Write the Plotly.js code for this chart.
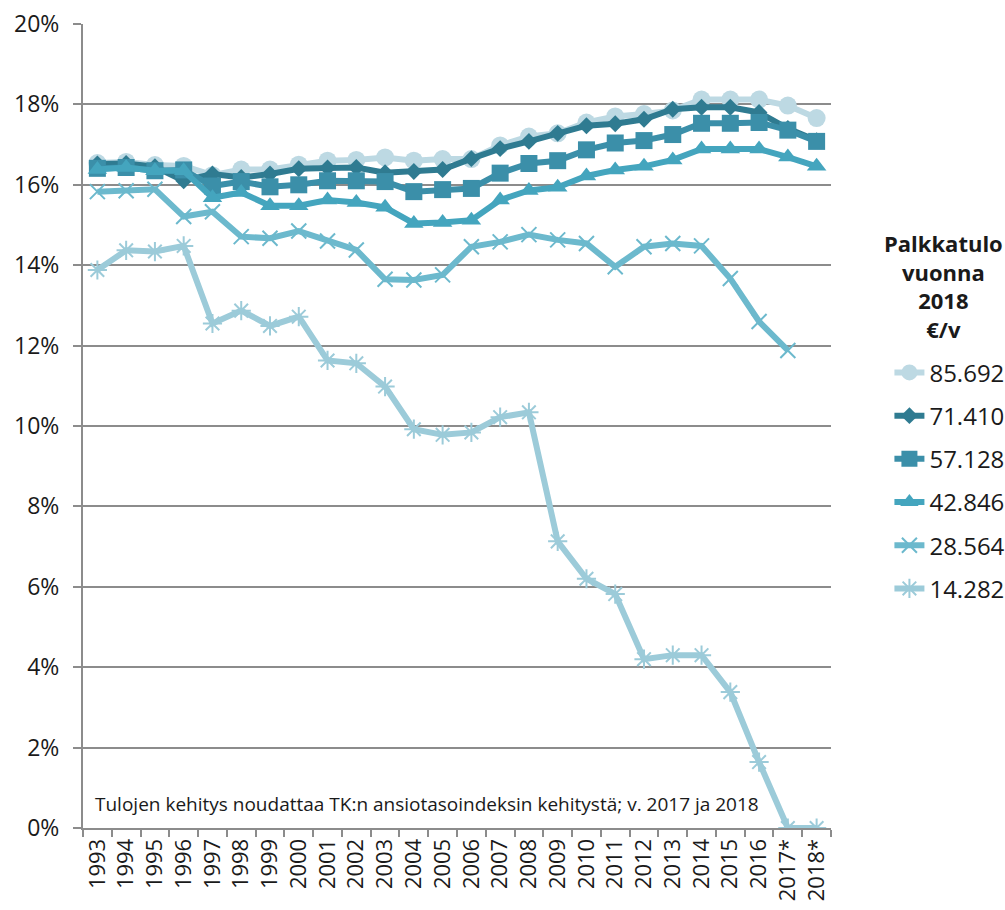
<!DOCTYPE html>
<html>
<head>
<meta charset="utf-8">
<script src="https://cdn.plot.ly/plotly-3.0.1.min.js"></script>
<style>html,body{margin:0;padding:0;background:#fff;}#chart{width:1005px;height:910px;}</style>
</head>
<body>
<div id="chart"></div>
<script>
var years = ["1993","1994","1995","1996","1997","1998","1999","2000","2001","2002","2003","2004","2005","2006","2007","2008","2009","2010","2011","2012","2013","2014","2015","2016","2017*","2018*"];
var seriesNames = ["85.692","71.410","57.128","42.846","28.564","14.282"];
var s85692 = [16.54,16.57,16.49,16.47,16.24,16.38,16.38,16.50,16.60,16.62,16.68,16.60,16.64,16.64,16.98,17.20,17.28,17.55,17.70,17.76,17.85,18.12,18.12,18.12,17.97,17.66];
var s71410 = [16.52,16.53,16.45,16.10,16.27,16.18,16.27,16.40,16.42,16.43,16.30,16.33,16.38,16.65,16.90,17.08,17.28,17.47,17.52,17.63,17.88,17.93,17.93,17.80,17.40,17.10];
var s57128 = [16.41,16.43,16.35,16.37,15.97,16.08,15.95,16.00,16.10,16.10,16.08,15.83,15.88,15.91,16.29,16.53,16.60,16.87,17.04,17.10,17.25,17.53,17.53,17.55,17.36,17.08];
var s42846 = [16.38,16.43,16.35,16.35,15.68,15.81,15.48,15.48,15.62,15.56,15.44,15.04,15.06,15.12,15.62,15.86,15.94,16.22,16.37,16.46,16.62,16.89,16.89,16.89,16.69,16.46];
var s28564 = [15.83,15.85,15.89,15.21,15.33,14.71,14.67,14.85,14.60,14.38,13.65,13.63,13.76,14.46,14.58,14.76,14.63,14.54,13.96,14.46,14.54,14.48,13.67,12.60,11.88,null];
var s14282 = [13.88,14.37,14.34,14.48,12.55,12.87,12.49,12.72,11.63,11.56,10.98,9.92,9.78,9.84,10.22,10.34,7.13,6.20,5.82,4.20,4.30,4.30,3.38,1.64,0,0];
var seriesValues = [s85692,s71410,s57128,s42846,s28564,s14282];
var colors = ["#bdd9e3","#2f7b91","#3b8fa9","#44a5be","#6cb9cd","#9ccbd9"];
var symbols = ["circle","diamond","square","triangle-up","x-thin-open","asterisk-open"];
var sizes = [18,13,17,17,15,16];
var legendTitle = "<b>Palkkatulo<br>vuonna<br>2018<br>€/v</b>";
var noteText = "Tulojen kehitys noudattaa TK:n ansiotasoindeksin kehitystä; v. 2017 ja 2018";

var FONT = "Open Sans, Noto Sans, sans-serif";
var traces = seriesNames.map(function(n,i){
  var open = symbols[i].indexOf("open") >= 0;
  return {
    type: "scatter", mode: "lines+markers",
    x: years, y: seriesValues[i], name: n, legendgroup: "g"+i,
    connectgaps: false,
    line: {color: colors[i], width: 6},
    marker: {symbol: symbols[i], size: sizes[i], color: colors[i],
             line: open ? {color: colors[i], width: 2} : {width: 0}}
  };
});

var layout = {
  width: 1005, height: 910,
  margin: {l: 83, r: 174, t: 24, b: 82},
  paper_bgcolor: "#fff", plot_bgcolor: "#fff",
  font: {family: FONT, size: 22, color: "#1a1a1a"},
  showlegend: true,
  legend: {
    xref: "container", yref: "container",
    x: 0.885, xanchor: "left", y: 0.615, yanchor: "top",
    traceorder: "grouped", tracegroupgap: 9,
    font: {family: FONT, size: 24, color: "#1a1a1a"},
    bgcolor: "rgba(0,0,0,0)", borderwidth: 0
  },
  xaxis: {
    type: "category", range: [-0.5, 25.5], tickson: "boundaries", ticks: "outside", ticklen: 7, tickwidth: 2, tickcolor: "#8c8c8c",
    tickangle: -90, showgrid: false, showline: true, linecolor: "#8c8c8c", linewidth: 2,
    tickfont: {family: FONT, size: 22, color: "#1a1a1a"}, fixedrange: true, automargin: false
  },
  yaxis: {
    range: [0, 20], dtick: 2, ticksuffix: "%", ticks: "outside", ticklen: 8, tickwidth: 2, tickcolor: "#8c8c8c",
    showgrid: true, gridcolor: "#8c8c8c", gridwidth: 2, zeroline: false,
    showline: true, linecolor: "#8c8c8c", linewidth: 2, ticklabelstandoff: 9,
    tickfont: {family: FONT, size: 23, color: "#1a1a1a"}, fixedrange: true, automargin: false
  },
  annotations: [{
    text: noteText, xref: "paper", yref: "y", x: 0.013, y: 0.6, xanchor: "left", yanchor: "middle",
    showarrow: false, font: {family: FONT, size: 19, color: "#1a1a1a"}
  },{
    text: legendTitle, xref: "paper", yref: "paper", x: 1.151, y: 0.749, xanchor: "center", yanchor: "top",
    align: "center", showarrow: false, font: {family: FONT, size: 22, color: "#1a1a1a"}
  }]
};

Plotly.newPlot("chart", traces, layout, {displayModeBar: false, staticPlot: true});
</script>
</body>
</html>
